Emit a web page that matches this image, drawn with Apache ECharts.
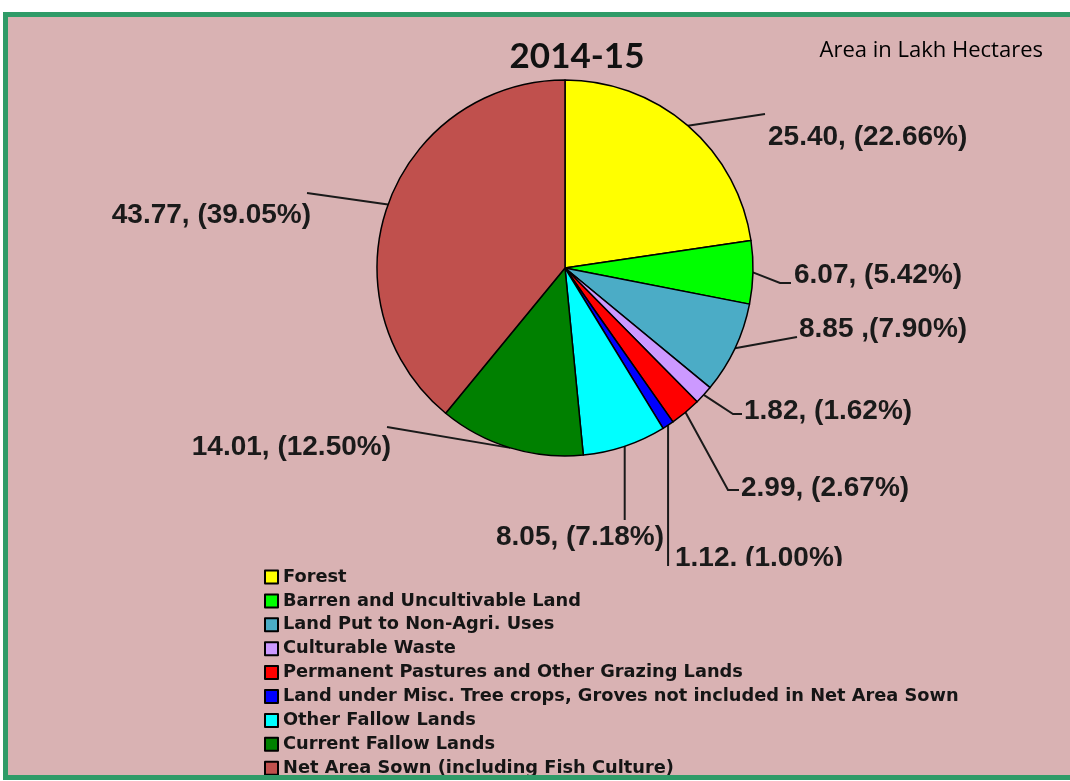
<!DOCTYPE html>
<html lang="en">
<head>
<meta charset="UTF-8" />
<title>2014-15 Land Use</title>
<style>
  html, body { margin: 0; padding: 0; background: #ffffff; }
  #chart { width: 1070px; height: 781px; }
</style>
</head>
<body>
<div id="chart"></div>
<script src="https://cdn.jsdelivr.net/npm/echarts@6/dist/echarts.min.js"></script>
<script>
  // Land use categories, area in lakh hectares
  const categories = [
    'Forest',
    'Barren and Uncultivable Land',
    'Land Put to Non-Agri. Uses',
    'Culturable Waste',
    'Permanent Pastures and Other Grazing Lands',
    'Land under Misc. Tree crops, Groves not included in Net Area Sown',
    'Other Fallow Lands',
    'Current Fallow Lands',
    'Net Area Sown (including Fish Culture)'
  ];
  const areas = [25.40, 6.07, 8.85, 1.82, 2.99, 1.12, 8.05, 14.01, 43.77];
  const labels = [
    '25.40, (22.66%)', '6.07, (5.42%)', '8.85 ,(7.90%)', '1.82, (1.62%)',
    '2.99, (2.67%)', '1.12, (1.00%)', '8.05, (7.18%)', '14.01, (12.50%)',
    '43.77, (39.05%)'
  ];
  const colors = ['#ffff00', '#00ff00', '#4bacc6', '#cc99ff', '#ff0000',
                  '#0000ff', '#00ffff', '#008000', '#c0504d'];

  // where each label sits, and the bend/end of its leader line
  // vert: leader drops straight down from the slice edge to that y
  const labelPos = [
    { x: 768, y: 137, align: 'left',   line: [[765, 114]] },
    { x: 794, y: 275, align: 'left',   line: [[780, 283], [791, 283]] },
    { x: 799, y: 329, align: 'left',   line: [[797, 337]] },
    { x: 744, y: 411, align: 'left',   line: [[733, 414], [742, 414]] },
    { x: 741, y: 488, align: 'left',   line: [[728, 490], [739, 490]] },
    { x: 675, y: 558, align: 'left',   vert: 566 },
    { x: 580, y: 537, align: 'center', vert: 520 },
    { x: 391, y: 447, align: 'right',  line: [[387, 427]] },
    { x: 311, y: 215, align: 'right',  line: [[307, 193]] }
  ];

  const bg = '#d9b2b3';
  const chart = echarts.init(document.getElementById('chart'));

  const option = {
    animation: false,
    title: [
      {
        text: '2014-15',
        left: 572,
        top: 34,
        textAlign: 'center',
        textStyle: { fontFamily: 'Lato', fontWeight: 'bold', fontSize: 35, color: '#111' }
      },
      {
        text: 'Area in Lakh Hectares',
        right: 22,
        top: 35,
        textStyle: { fontFamily: 'Open Sans', fontWeight: 'normal', fontSize: 22, color: '#000' }
      }
    ],
    legend: {
      data: categories,
      orient: 'vertical',
      left: 264,
      top: 568,
      padding: 0,
      itemWidth: 13,
      itemHeight: 13,
      itemGap: 5.9,
      icon: 'rect',
      z: 10,
      textStyle: { fontFamily: 'DejaVu Sans', fontWeight: 'bold', fontSize: 17.8, color: '#151515' }
    },
    graphic: [
      {
        type: 'rect', z: -10, silent: true,
        shape: { x: 5.5, y: 14.5, width: 1080, height: 763 },
        style: { fill: bg }
      },
      {
        // clip the bottom of the 1.12 label like the original
        type: 'rect', z: 5, silent: true,
        shape: { x: 665, y: 566, width: 200, height: 8 },
        style: { fill: bg }
      },
      {
        type: 'rect', z: 100, silent: true,
        shape: { x: 5.5, y: 14.5, width: 1080, height: 763 },
        style: { fill: null, stroke: '#2f9b68', lineWidth: 5 }
      }
    ],
    series: [
      {
        type: 'pie',
        center: [565, 268],
        radius: 188,
        startAngle: 90,
        clockwise: true,
        avoidLabelOverlap: false,
        data: categories.map((name, i) => ({
          name: name,
          value: areas[i],
          itemStyle: { color: colors[i] }
        })),
        itemStyle: { borderColor: '#000', borderWidth: 1.5 },
        label: {
          show: true,
          position: 'outside',
          formatter: p => labels[p.dataIndex],
          fontFamily: 'Liberation Sans',
          fontWeight: 'bold',
          fontSize: 28,
          color: '#1a1a1a'
        },
        labelLine: {
          show: true,
          lineStyle: { color: '#1a1a1a', width: 2 }
        },
        labelLayout: function (params) {
          const lp = labelPos[params.dataIndex];
          const start = params.labelLinePoints[0];
          let pts;
          if (lp.vert != null) {
            pts = [start, [start[0], lp.vert]];
          } else {
            pts = [start].concat(lp.line);
          }
          return {
            x: lp.x,
            y: lp.y,
            align: lp.align,
            verticalAlign: 'middle',
            labelLinePoints: pts
          };
        },
        emphasis: { disabled: true }
      }
    ]
  };

  chart.setOption(option);
</script>
</body>
</html>
